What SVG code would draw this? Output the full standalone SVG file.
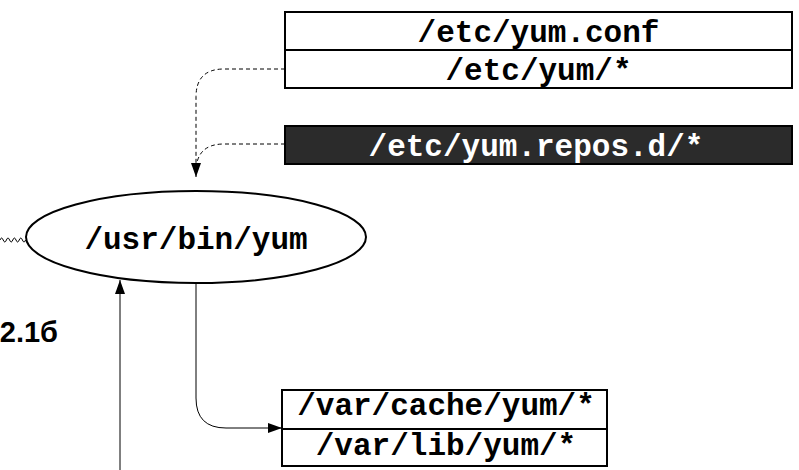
<svg xmlns="http://www.w3.org/2000/svg" width="799" height="470" viewBox="0 0 799 470">
<style>
.box{fill:#fff;stroke:#000;stroke-width:2}
.dark{fill:#2b2b2b;stroke:#000;stroke-width:2}
.mono{font-family:"Liberation Mono","Courier New",monospace;font-weight:bold;font-size:31px;text-anchor:middle;fill:#000}
.white{fill:#fff}
.conn{fill:none;stroke:#000;stroke-width:1}
.dash{stroke-dasharray:4 3}
</style>
<defs>
<marker id="arr" viewBox="0 0 14 10" refX="14" refY="5" markerWidth="14" markerHeight="10" markerUnits="userSpaceOnUse" orient="auto">
<path d="M0,0 L14,5 L0,10 Z" fill="#000"/>
</marker>
</defs>
<g id="connectors">
<path class="conn dash" d="M285,69 H224 Q196,69 196,97 V176"/>
<path class="conn dash" d="M285,144 H224 Q196,144 196,172"/>
<path class="conn" d="M196,176 V177" marker-end="url(#arr)" />
<path class="conn" d="M196,283 V398 Q196,428 226,428 H282" marker-end="url(#arr)"/>
<path class="conn" d="M120,470 V280" marker-end="url(#arr)"/>
<path class="conn" d="M0,240 q1.6,-4 3.2,0 t3.2,0 t3.2,0 t3.2,0 t3.2,0 t3.2,0 t3.2,0 t3.2,0"/>
</g>
<g id="yum-conf">
<rect class="box" x="285" y="12" width="507" height="76"/>
<line x1="285" y1="50" x2="792" y2="50" stroke="#000" stroke-width="2"/>
<text class="mono" x="538.5" y="42">/etc/yum.conf</text>
<text class="mono" x="538.5" y="80">/etc/yum/*</text>
</g>
<g id="repos">
<rect class="dark" x="285" y="126" width="507" height="38"/>
<text class="mono white" x="536" y="156">/etc/yum.repos.d/*</text>
</g>
<g id="yum">
<ellipse cx="196" cy="237" rx="170" ry="46" fill="#fff" stroke="#000" stroke-width="2"/>
<text class="mono" x="196" y="249">/usr/bin/yum</text>
</g>
<g id="var">
<rect class="box" x="282" y="390" width="325" height="76"/>
<line x1="282" y1="429" x2="607" y2="429" stroke="#000" stroke-width="2"/>
<text class="mono" x="446" y="415">/var/cache/yum/*</text>
<text class="mono" x="446" y="455">/var/lib/yum/*</text>
</g>
<text x="58" y="342" font-family="Liberation Sans, Arial, sans-serif" font-weight="bold" font-size="29" text-anchor="end">2.1б</text>
</svg>
